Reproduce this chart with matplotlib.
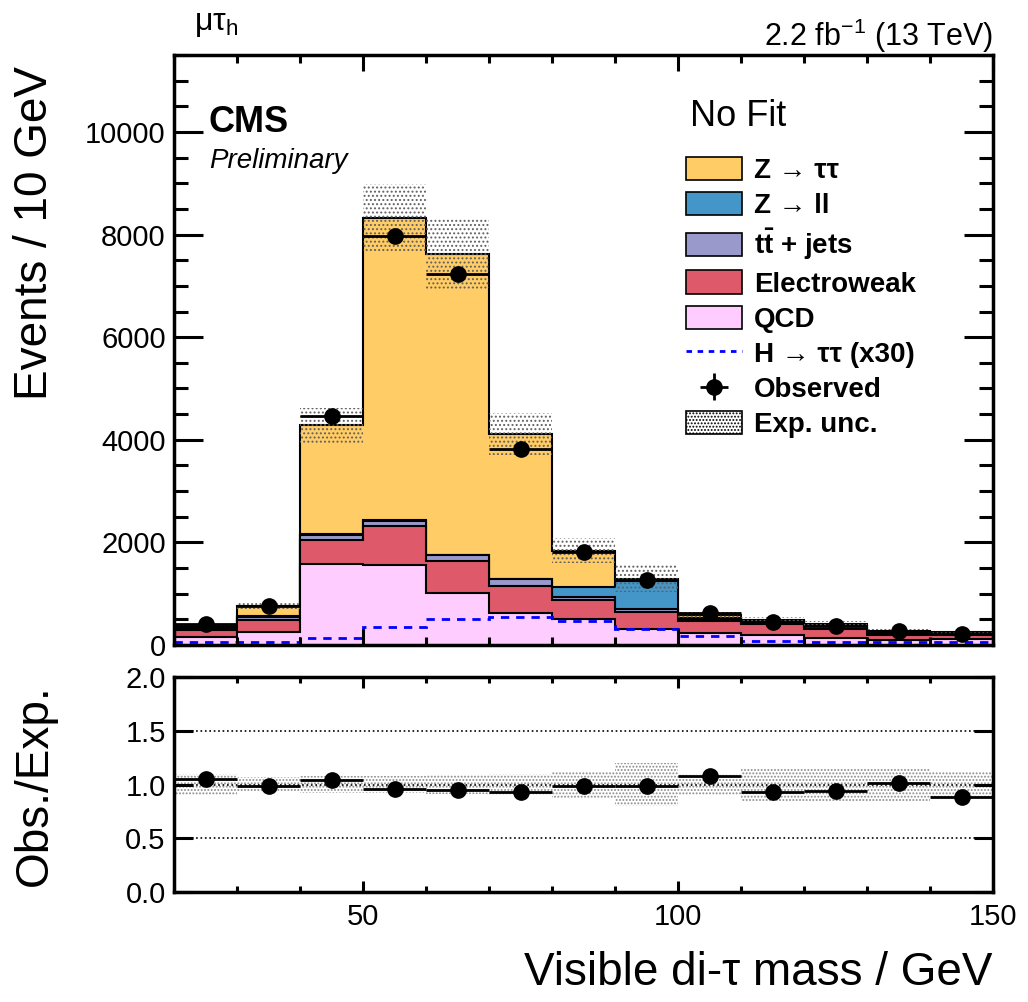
import numpy as np
import matplotlib
matplotlib.use('Agg')
import matplotlib.pyplot as plt
from matplotlib.patches import Patch
from matplotlib.lines import Line2D

plt.rcParams['font.family'] = ['Liberation Sans', 'DejaVu Sans']
plt.rcParams['mathtext.fontset'] = 'custom'
plt.rcParams['mathtext.rm'] = 'Liberation Sans'
plt.rcParams['mathtext.it'] = 'Liberation Sans:italic'
plt.rcParams['mathtext.bf'] = 'Liberation Sans:bold'
plt.rcParams['hatch.linewidth'] = 0.9

# bins of visible di-tau mass (GeV)
edges = np.arange(20, 160, 10)
qcd = np.array([156, 253, 1585, 1553, 1020, 630, 500, 318, 240, 189, 136, 91, 111])
ewk = np.array([130, 228, 455, 761, 611, 520, 371, 325, 221, 226, 182, 98, 78])
ttj = np.array([45, 65, 98, 97, 117, 130, 64, 53, 39, 46, 52, 36, 26])
zll = np.array([10, 15, 20, 20, 15, 15, 195, 545, 30, 10, 8, 6, 5])
ztt = np.array([39, 199, 2124, 5892, 5852, 2824, 710, 52, 50, 9, 22, 39, 30])
htt30 = np.array([58, 58, 136, 351, 513, 546, 468, 318, 169, 71, 60, 60, 50])
observed = np.array([400, 752, 4455, 7966, 7230, 3827, 1820, 1275, 627, 445, 376, 275, 222])
rel_unc = np.array([0.10, 0.07, 0.08, 0.08, 0.09, 0.10, 0.13, 0.20, 0.10, 0.15, 0.15, 0.15, 0.12])

colors = {
    'ztt': '#ffcc66',
    'zll': '#4496c8',
    'ttj': '#9999cc',
    'ewk': '#de5a6a',
    'qcd': '#ffccff',
}

W, H = 1028, 1002
def fx(x):
    return x / W
def fy(y):
    return 1 - y / H

fig = plt.figure(figsize=(W / 100, H / 100), dpi=100)
ax = fig.add_axes([fx(174), fy(645), fx(993) - fx(174), fy(55) - fy(645)])
rax = fig.add_axes([fx(174), fy(892), fx(993) - fx(174), fy(677) - fy(892)])

# stacked histograms, ROOT style: cumulative drawn biggest first
stack = [('qcd', qcd), ('ewk', ewk), ('ttj', ttj), ('zll', zll), ('ztt', ztt)]
cum = np.cumsum([s[1] for s in stack], axis=0)
for i in range(len(stack) - 1, -1, -1):
    ax.stairs(cum[i], edges, baseline=0, fill=True,
              facecolor=colors[stack[i][0]], edgecolor='black', linewidth=1.5)
total = cum[-1]

ax.stairs(total * (1 + rel_unc), edges, baseline=total * (1 - rel_unc), fill=True,
          facecolor='none', edgecolor='#606060', hatch='....', linewidth=0)

ax.stairs(htt30, edges, baseline=None, color='#0000ff', linestyle=(0, (3, 2.5)),
          linewidth=2)

centers = 0.5 * (edges[:-1] + edges[1:])
obs = ax.errorbar(centers, observed, xerr=5, yerr=np.sqrt(observed), fmt='o',
                  color='black', markersize=11, elinewidth=2, capsize=0, zorder=5)

ax.set_xlim(20, 150)
ax.set_ylim(0, 11500)
ax.set_xticks([50, 100, 150])
ax.set_xticks(np.arange(20, 151, 10), minor=True)
ax.set_yticks(np.arange(0, 10001, 2000))
ax.set_yticks(np.arange(0, 11501, 500), minor=True)
ax.set_xticklabels([])
ax.tick_params(axis='y', which='major', direction='in', left=True, right=True,
               length=21, width=2.2, labelsize=21, pad=6)
ax.tick_params(axis='y', which='minor', direction='in', left=True, right=True,
               length=10, width=2.2)
ax.tick_params(axis='x', which='major', direction='in', top=True, bottom=True,
               length=11.5, width=2.2)
ax.tick_params(axis='x', which='minor', direction='in', top=True, bottom=True,
               length=6, width=2.2)
for sp in ax.spines.values():
    sp.set_linewidth(2.5)

# ratio panel
ratio = observed / total
rax.stairs(1 + rel_unc, edges, baseline=1 - rel_unc, fill=True,
           facecolor='none', edgecolor='#8a8a8a', hatch='.....', linewidth=0)
for yv in (0.5, 1.0, 1.5):
    rax.axhline(yv, color='black', linestyle=':', linewidth=1.2)
rax.errorbar(centers, ratio, xerr=5, yerr=np.sqrt(observed) / total, fmt='o',
             color='black', markersize=11, elinewidth=2, capsize=0, zorder=5)
rax.set_xlim(20, 150)
rax.set_ylim(0, 2)
rax.set_yticks([0.0, 0.5, 1.0, 1.5, 2.0])
rax.set_yticklabels(['0.0', '0.5', '1.0', '1.5', '2.0'])
rax.set_xticks([50, 100, 150])
rax.set_xticks(np.arange(20, 151, 10), minor=True)
rax.tick_params(axis='y', which='major', direction='in', left=True, right=True,
                length=14, width=2.2, labelsize=21, pad=6)
rax.tick_params(axis='x', which='major', direction='in', top=True, bottom=True,
                length=8, width=2.2, labelsize=21, pad=8)
rax.tick_params(axis='x', which='minor', direction='in', top=True, bottom=True,
                length=4.5, width=2.2)
for sp in rax.spines.values():
    sp.set_linewidth(2.5)

# legend
handles = [
    Patch(facecolor=colors['ztt'], edgecolor='black', linewidth=1.2),
    Patch(facecolor=colors['zll'], edgecolor='black', linewidth=1.2),
    Patch(facecolor=colors['ttj'], edgecolor='black', linewidth=1.2),
    Patch(facecolor=colors['ewk'], edgecolor='black', linewidth=1.2),
    Patch(facecolor=colors['qcd'], edgecolor='black', linewidth=1.2),
    Line2D([], [], color='#0000ff', linestyle=(0, (2, 2)), linewidth=2),
    obs,
    Patch(facecolor='white', edgecolor='black', hatch='.....', linewidth=1.2),
]
labels = ['Z → ττ', 'Z → ll', r'$\mathbf{t\bar{t}}$ + jets', 'Electroweak', 'QCD',
          'H → ττ (x30)', 'Observed', 'Exp. unc.']
ax.legend(handles, labels, loc='upper left',
          bbox_to_anchor=((686 - 174) / 819, (645 - 157) / 590),
          frameon=False, prop={'weight': 'bold', 'size': 20},
          handlelength=2.0, handleheight=0.9, handletextpad=0.45,
          labelspacing=0.29, borderpad=0, borderaxespad=0)

fig.text(fx(690), fy(117), 'No Fit', fontsize=26, ha='left', va='center')
fig.text(fx(209), fy(122), 'CMS', fontsize=26, fontweight='bold', ha='left', va='center')
fig.text(fx(209), fy(161), 'Preliminary', fontsize=20, fontstyle='italic',
         ha='left', va='center')
fig.text(fx(194), fy(24), 'μτ$_{\\mathrm{h}}$', fontsize=23, ha='left', va='center')
fig.text(fx(993), fy(36), '2.2 fb$^{-1}$ (13 TeV)', fontsize=22, ha='right', va='center')

fig.text(fx(35), fy(66), 'Events / 10 GeV', fontsize=33, rotation=90,
         ha='center', va='top')
fig.text(fx(35), fy(785), 'Obs./Exp.', fontsize=33, rotation=90,
         ha='center', va='center')
fig.text(fx(993), fy(973), 'Visible di-τ mass / GeV', fontsize=33,
         ha='right', va='center')

fig.savefig('out.png', dpi=100)
